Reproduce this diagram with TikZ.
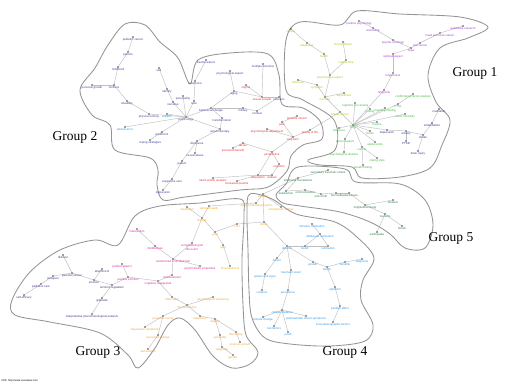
\documentclass[tikz,border=0pt]{standalone}
\usepackage{fontspec}
\setmainfont{Liberation Serif}
\newfontfamily\labfont{Liberation Sans}
\pgfdeclarelayer{bg}
\pgfsetlayers{bg,main}
\definecolor{cDB}{HTML}{3B3F9E}
\definecolor{cRed}{HTML}{E53030}
\definecolor{cLB}{HTML}{2E9FD8}
\definecolor{cPur}{HTML}{9B3FD0}
\definecolor{cYG}{HTML}{A6C81E}
\definecolor{cGr}{HTML}{3CB83C}
\definecolor{cNv}{HTML}{2F3A8F}
\definecolor{cDG}{HTML}{2E7D45}
\definecolor{cYel}{HTML}{F2A81D}
\definecolor{cPk}{HTML}{E0249A}
\definecolor{cBl}{HTML}{2B95E8}
\definecolor{cDP}{HTML}{4E2C8E}
\definecolor{cOr}{HTML}{F0A040}
\tikzset{
  dot/.style={circle,fill=black!75,inner sep=0pt,minimum size=1.6pt},
  lab/.style={font=\labfont\fontsize{2.9}{3.2}\selectfont,inner sep=0.2pt,anchor=north,align=center},
  edge/.style={draw=black!25,line width=0.45pt},
  outline/.style={draw=black!42,line width=0.85pt},
  grp/.style={font=\fontsize{13.5}{15}\selectfont,inner sep=0pt},
}
\newcommand\nd[5]{\node[dot] (#1) at (#2,-#3) {}; \node[lab,text=#5] at ([yshift=-0.4pt]#1.south) {#4};}
\begin{document}
\begin{tikzpicture}[x=1pt,y=1pt]
\useasboundingbox (0,0) rectangle (506,-385);
\begin{pgfonlayer}{bg}
\fill[white] (0,0) rectangle (506,-385);
\end{pgfonlayer}
% ---------- nodes: group 2 ----------
\nd{b1}{133}{37}{pediatric cancer}{cDB}
\nd{b2}{128}{52}{parents}{cDB}
\nd{b3}{118}{67}{childhood}{cDB}
\nd{b4}{92}{85}{personal growth}{cDB}
\nd{b5}{114}{85}{mothers}{cDB}
\nd{b6}{127}{101}{disability}{cDB}
\nd{b7}{149}{114}{physical activity}{cDB}
\nd{b8}{159}{68}{self}{cDB}
\nd{b9}{167}{89}{identity}{cDB}
\nd{b10}{183}{96}{personality}{cDB}
\nd{b11}{173}{102}{narrative}{cDB}
\nd{b12}{194}{101}{race}{cDB}
\nd{b13}{195}{81}{coherence}{cDB}
\nd{b14}{206}{60}{trauma aspect}{cDB}
\nd{b15}{230}{71}{psychological aspect}{cDB}
\nd{b16}{263}{64}{multiple sclerosis}{cDB}
\nd{b17}{234}{91}{aging}{cDB}
\nd{b18}{211}{108}{behavioral change}{cDB}
\nd{b19}{243}{108}{military}{cDB}
\nd{b20}{257}{111}{combat}{cDB}
\nd{b21}{186}{117}{psychology}{cDB}
\nd{b22}{222}{118}{transformation}{cDB}
\nd{b23}{167}{114}{support}{cLB}
\nd{b24}{279}{97}{veterans}{cDB}
\nd{b25}{125}{127}{adolescence}{cLB}
\nd{b26}{162}{132}{predictors}{cDB}
\nd{b27}{150}{140}{coping strategies}{cDB}
\nd{b28}{220}{129}{psychotherapy}{cDB}
\nd{b29}{197}{141}{disclosure}{cDB}
\nd{b30}{195}{153}{sexual abuse}{cDB}
\nd{b31}{182}{161}{patient}{cDB}
\nd{b32}{172}{179}{supportive care}{cDB}
\nd{b33}{163}{190}{depression}{cDB}
\nd{r1}{246}{85}{stigma}{cRed}
\nd{r2}{262}{97}{sexual assault}{cRed}
\nd{r3}{282}{122}{pain}{cRed}
\nd{r4}{297}{116}{prostate cancer}{cRed}
\nd{r5}{267}{129}{psychological adjustment}{cRed}
\nd{r6}{310}{130}{quality of life}{cRed}
\nd{r7}{293}{137}{long term}{cRed}
\nd{r8}{243}{143}{abuse}{cRed}
\nd{r9}{233}{148}{perceived benefit}{cRed}
\nd{r10}{272}{152}{perspective}{cRed}
\nd{r11}{279}{164}{cognition}{cRed}
\nd{r12}{258}{175}{population}{cRed}
\nd{r13}{213}{178}{latent profile analysis}{cRed}
\nd{r14}{237}{181}{bereaved parents}{cRed}
\nd{r15}{272}{175}{welfare}{cRed}
% ---------- group 1 ----------
\nd{y1}{291}{29}{culture}{cYG}
\nd{y2}{307}{43}{adaptation}{cYG}
\nd{y3}{343}{42}{chronic illness}{cYG}
\nd{y4}{324}{54}{health}{cYG}
\nd{y5}{346}{60}{relationship}{cYG}
\nd{y6}{330}{75}{psychosocial aspect}{cYG}
\nd{y7}{298}{80}{follow-up}{cYG}
\nd{y8}{317}{85}{symptom}{cYG}
\nd{y9}{344}{93}{adjustment}{cYG}
\nd{y10}{325}{97}{mortality}{cYG}
\nd{y11}{340}{112}{breast cancer}{cYG}
\nd{p1}{359}{21}{positive psychology}{cPur}
\nd{p2}{373}{28}{well-being}{cPur}
\nd{p3}{393}{40}{psycho-oncology}{cPur}
\nd{p4}{411}{48}{hope}{cPur}
\nd{p5}{420}{43}{oral cancer}{cPur}
\nd{p6}{440}{33}{head and neck cancer}{cPur}
\nd{p7}{463}{26}{qualitative research}{cPur}
\nd{p8}{393}{54}{spiritual aspect}{cPur}
\nd{p9}{393}{73}{forgiveness}{cPur}
\nd{p10}{384}{90}{religiosity}{cPur}
\nd{g0}{353}{125}{PTG}{cGr}
\nd{g1}{355}{103}{cognitive processing}{cGr}
\nd{g2}{370}{109}{coping}{cGr}
\nd{g3}{385}{108}{meaning making}{cGr}
\nd{g4}{413}{94}{confirmatory factor analysis}{cGr}
\nd{g5}{398}{104}{PTGI}{cGr}
\nd{g6}{405}{114}{event centrality}{cGr}
\nd{g7}{339}{128}{resilience}{cGr}
\nd{g8}{377}{122}{trauma}{cGr}
\nd{g9}{370}{131}{stress}{cGr}
\nd{g10}{345}{139}{social support}{cGr}
\nd{g11}{375}{142}{adolescents}{cGr}
\nd{g12}{362}{147}{cancer}{cGr}
\nd{g13}{344}{152}{psychological distress}{cGr}
\nd{g14}{377}{158}{coping style}{cGr}
\nd{g15}{363}{165}{benefit finding}{cGr}
\nd{n1}{387}{130}{depression}{cNv}
\nd{n2}{406}{131}{anxiety}{cNv}
\nd{n3}{406}{141}{PTSD}{cNv}
\nd{n4}{423}{135}{stroke}{cNv}
\nd{n5}{418}{151}{brain injury}{cNv}
\nd{n6}{439}{109}{mediation}{cNv}
\nd{n7}{432}{123}{rehabilitation}{cNv}
% ---------- group 5 ----------
\nd{d1}{298}{178}{emotional foundations}{cDG}
\nd{d2}{328}{170}{secondary traumatic stress}{cDG}
\nd{d3}{286}{191}{satisfaction}{cDG}
\nd{d4}{305}{190}{communication}{cDG}
\nd{d5}{321}{194}{end of life}{cDG}
\nd{d6}{336}{193}{burnout}{cDG}
\nd{d7}{349}{193}{hopelessness}{cDG}
\nd{d8}{365}{205}{longitudinal study}{cDG}
\nd{d9}{393}{200}{disaster}{cDG}
\nd{d10}{385}{214}{tsunami}{cDG}
\nd{d11}{377}{232}{earthquake}{cDG}
\nd{d12}{402}{226}{floods}{cDG}
% ---------- yellow (top of group 4 / group 3) ----------
\nd{o1}{263}{194}{nursing}{cYel}
\nd{o2}{256}{203}{change following trauma}{cYel}
\nd{o3}{281}{207}{compassion fatigue}{cYel}
\nd{o4}{264}{222}{stress}{cYel}
\nd{o5}{187}{207}{meditation}{cYel}
\nd{o6}{209}{206}{spiritual health}{cYel}
\nd{o7}{202}{218}{therapy}{cYel}
\nd{o8}{215}{232}{grief}{cYel}
\nd{o9}{237}{224}{cost}{cYel}
\nd{o10}{223}{245}{goal}{cYel}
\nd{o11}{230}{266}{empowerment}{cYel}
% ---------- group 3 ----------
\nd{k1}{137}{229}{intervention}{cPk}
\nd{k2}{155}{246}{mindfulness}{cPk}
\nd{k3}{192}{243}{complicated grief\\life event}{cPk}
\nd{k4}{173}{259}{randomized controlled trial}{cPk}
\nd{k5}{200}{266}{psychometric properties}{cPk}
\nd{k6}{172}{275}{measurement}{cPk}
\nd{k8}{122}{264}{positive aspect}{cPk}
\nd{k9}{128}{277}{positive emotion}{cPk}
\nd{k10}{158}{281}{cognitive reappraisal}{cPk}
\nd{q1}{63}{255}{distress}{cDP}
\nd{q2}{72}{273}{parental cancer}{cDP}
\nd{q3}{53}{276}{caregiver}{cDP}
\nd{q4}{41}{284}{palliative care}{cDP}
\nd{q5}{24}{295}{self-efficacy}{cDP}
\nd{q6}{102}{269}{attachment}{cDP}
\nd{q7}{94}{280}{emotion}{cDP}
\nd{q8}{112}{285}{emotion regulation}{cDP}
\nd{q9}{102}{298}{gratitude}{cDP}
\nd{q10}{92}{314}{interpretative phenomenological analysis}{cDP}
\nd{o12}{172}{297}{older adult}{cOr}
\nd{o13}{213}{297}{psychological well-being}{cOr}
\nd{o14}{187}{305}{life satisfaction}{cOr}
\nd{o15}{163}{316}{personal control}{cOr}
\nd{o16}{145}{327}{depressive symptoms}{cOr}
\nd{o17}{158}{335}{perceived change}{cOr}
\nd{o18}{148}{349}{self-esteem}{cOr}
\nd{o19}{200}{316}{happiness}{cOr}
\nd{o20}{215}{319}{religion}{cOr}
\nd{o21}{220}{335}{spirituality}{cOr}
\nd{o22}{236}{332}{flourishing}{cOr}
\nd{o23}{240}{342}{vicarious growth}{cOr}
\nd{o24}{222}{347}{religiosity}{cOr}
\nd{o25}{233}{355}{gender}{cOr}
% ---------- group 4 ----------
\nd{c1}{312}{224}{intrusive rumination}{cBl}
\nd{c2}{320}{234}{deliberate rumination}{cBl}
\nd{c3}{305}{246}{belief}{cBl}
\nd{c4}{328}{246}{rumination}{cBl}
\nd{c5}{287}{246}{distress}{cBl}
\nd{c6}{277}{258}{illness}{cBl}
\nd{c7}{313}{262}{growth}{cBl}
\nd{c8}{327}{267}{health}{cBl}
\nd{c9}{345}{262}{benefits}{cBl}
\nd{c10}{362}{259}{diagnosis}{cBl}
\nd{c11}{265}{274}{spinal cord injury}{cBl}
\nd{c12}{291}{270}{traumatic event}{cBl}
\nd{c13}{262}{290}{violence}{cBl}
\nd{c14}{288}{290}{prevalence}{cBl}
\nd{c15}{335}{287}{optimism}{cBl}
\nd{c16}{340}{306}{positive affect}{cBl}
\nd{c17}{333}{322}{socio-demographic factors}{cBl}
\nd{c18}{282}{310}{college students}{cBl}
\nd{c19}{263}{317}{climate change}{cBl}
\nd{c20}{274}{326}{risk factors}{cBl}
\nd{c21}{306}{316}{posttraumatic stress symptoms}{cBl}
\nd{c22}{288}{332}{youth}{cBl}
% ---------- group labels ----------
\node[grp] (G1) at (475,-73) {Group 1};
\node[grp] (G2) at (75,-137) {Group 2};
\node[grp] (G3) at (98,-352) {Group 3};
\node[grp] (G4) at (345,-352) {Group 4};
\node[grp] (G5) at (451,-238) {Group 5};
\node[font=\labfont\fontsize{2.6}{3}\selectfont,anchor=west,inner sep=0pt] (foot) at (1,-381) {VOS: http://www.vosviewer.com};
% ---------- edges and outlines ----------
\begin{pgfonlayer}{bg}
\foreach \a/\b in {b1/b2,b2/b3,b3/b5,b4/b5,b5/b6,b6/b7,b7/b21,b23/b21,b8/b9,b9/b11,b11/b21,b10/b21,b12/b21,b13/b12,b14/b13,b15/b17,b17/b18,b18/b21,b18/b19,b19/b20,b20/b24,b21/b28,b22/b28,b18/b22,b21/b25,b21/b26,b26/b27,b28/b29,b29/b30,b29/b31,b31/b32,b32/b33,b16/r2,r1/r2,r2/b17,r2/b24,
 r4/r3,r3/r7,r7/r6,r5/r7,r7/r10,r10/r8,r8/r9,r10/r12,r10/r11,r11/r15,r12/r15,r12/r13,r12/r14,r6/y11,
 y1/y2,y2/y4,y3/y5,y4/y6,y5/y6,y6/y10,y7/y8,y8/y10,y9/y10,y10/y11,y11/g0,
 p1/p2,p2/p3,p3/p4,p4/p5,p5/p6,p6/p7,p4/p8,p8/p9,p9/p10,p10/g0,
 g0/g1,g0/g2,g0/g3,g0/g5,g0/g6,g0/g7,g0/g8,g0/g9,g0/g10,g0/g11,g0/g12,g0/n1,g5/g4,g10/g13,g12/g14,g12/g15,
 n1/n2,n2/n3,n2/n4,n4/n5,n4/n7,n7/n6,
 d2/d1,d1/d3,d3/d4,d4/d5,d5/d6,d6/d7,d7/d8,d8/d9,d8/d10,d10/d11,d10/d12,d1/o1,
 o1/o2,o1/o3,o1/o4,o4/c5,o2/o6,o5/o7,o6/o7,o7/o8,o8/o10,o10/o11,o8/o9,o9/o4,
 k1/k2,k2/k4,k3/k4,k4/k5,k4/k6,k6/k10,k8/k9,k9/k10,k9/q8,k3/o7,
 q1/q2,q2/q3,q3/q4,q4/q5,q2/q7,q6/q7,q7/q8,q8/q9,q9/q10,
 k10/o12,o12/o14,o14/o13,o14/o15,o15/o16,o15/o17,o17/o18,o14/o19,o19/o20,o20/o21,o21/o24,o24/o25,o20/o22,o22/o23,
 c1/c2,c2/c3,c2/c4,c3/c4,c5/c3,c5/c6,c6/c11,c11/c13,c12/c14,c5/c12,c14/c18,c18/c19,c18/c20,c18/c21,c18/c22,c5/c7,c7/c8,c8/c9,c9/c10,c8/c15,c15/c16,c16/c17}
  \draw[edge] (\a) -- (\b);
% group outlines
\draw[outline] plot[smooth cycle,tension=0.55] coordinates {(108,-45) (125,-24) (145,-25) (160,-42) (178,-58) (190,-84) (198,-60) (230,-53) (268,-54) (279,-75) (282,-104) (303,-108) (320,-121) (322,-139) (303,-145) (291,-156) (287,-171) (268,-187) (240,-190) (185,-197) (163,-200) (157,-185) (158,-170) (150,-158) (115,-150) (110,-125) (92,-115) (80,-90) (95,-68)};
\draw[outline] plot[smooth cycle,tension=0.55] coordinates {(286,-40) (300,-22) (340,-25) (357,-11) (400,-14) (460,-17) (488,-27) (468,-38) (440,-48) (428,-75) (436,-102) (450,-120) (442,-145) (430,-168) (400,-177) (362,-178) (352,-167) (320,-165) (308,-160) (335,-150) (334,-120) (303,-100) (286,-90)};
\draw[outline] plot[smooth cycle,tension=0.55] coordinates {(298,-167) (345,-169) (356,-182) (400,-184) (425,-200) (433,-225) (425,-248) (405,-248) (390,-234) (370,-222) (340,-212) (300,-206) (283,-203) (276,-195) (286,-184)};
\draw[outline] plot[smooth cycle,tension=0.55] coordinates {(250,-194) (272,-199) (296,-214) (335,-222) (358,-238) (374,-258) (363,-280) (361,-300) (373,-325) (365,-341) (330,-346) (290,-344) (265,-338) (252,-318) (249,-290) (248,-250) (247,-212)};
\draw[outline] plot[smooth cycle,tension=0.55] coordinates {(12,-300) (30,-272) (60,-250) (95,-240) (118,-245) (135,-216) (160,-206) (200,-203) (240,-199) (244,-215) (242,-260) (243,-305) (246,-335) (258,-352) (250,-364) (232,-368) (213,-356) (195,-330) (180,-318) (168,-325) (155,-348) (138,-368) (128,-355) (100,-333) (50,-322) (15,-315)};
\end{pgfonlayer}
\end{tikzpicture}
\end{document}
